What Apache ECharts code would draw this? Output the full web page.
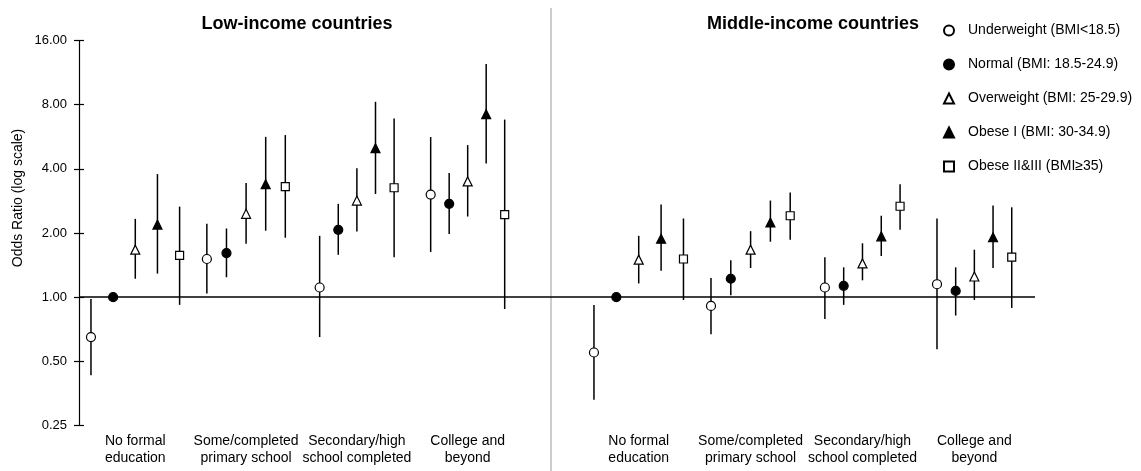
<!DOCTYPE html>
<html>
<head>
<meta charset="utf-8">
<script src="https://cdn.jsdelivr.net/npm/echarts@6/dist/echarts.min.js"></script>
<style>
  html, body { margin: 0; padding: 0; background: #fff; }
  #chart { width: 1141px; height: 471px; }
</style>
</head>
<body>
<div id="chart"></div>
<script>
// categories
const educationLevels = ['No formal\neducation', 'Some/completed\nprimary school', 'Secondary/high\nschool completed', 'College and\nbeyond'];
const bmiGroups = ['Underweight (BMI<18.5)', 'Normal (BMI: 18.5-24.9)', 'Overweight (BMI: 25-29.9)', 'Obese I (BMI: 30-34.9)', 'Obese II&III (BMI\u226535)'];
const yTicks = [0.25, 0.5, 1, 2, 4, 8, 16];

// odds ratio [OR, lower CI, upper CI] per education level - low-income countries
const lowUnderweight = [[0.65, 0.43, 0.98], [1.51, 1.04, 2.21], [1.11, 0.65, 1.94], [3.03, 1.63, 5.64]];
const lowNormal      = [[1.00, null, null], [1.61, 1.24, 2.10], [2.07, 1.58, 2.74], [2.74, 1.98, 3.82]];
const lowOverweight  = [[1.67, 1.22, 2.33], [2.46, 1.78, 3.43], [2.84, 2.03, 4.02], [3.49, 2.39, 5.17]];
const lowObese1      = [[2.19, 1.29, 3.78], [3.39, 2.05, 5.65], [5.00, 3.05, 8.25], [7.22, 4.24, 12.4]];
const lowObese23     = [[1.57, 0.92, 2.66], [3.30, 1.90, 5.76], [3.26, 1.54, 6.89], [2.44, 0.88, 6.81]];

// middle-income countries
const midUnderweight = [[0.55, 0.33, 0.92], [0.91, 0.67, 1.23], [1.11, 0.79, 1.54], [1.15, 0.57, 2.34]];
const midNormal      = [[1.00, null, null], [1.22, 1.02, 1.49], [1.13, 0.92, 1.38], [1.07, 0.82, 1.38]];
const midOverweight  = [[1.50, 1.16, 1.94], [1.67, 1.37, 2.04], [1.44, 1.20, 1.79], [1.25, 0.97, 1.67]];
const midObese1      = [[1.88, 1.33, 2.72], [2.24, 1.82, 2.84], [1.93, 1.56, 2.41], [1.91, 1.37, 2.69]];
const midObese23     = [[1.51, 0.97, 2.34], [2.41, 1.86, 3.10], [2.67, 2.07, 3.39], [1.54, 0.89, 2.64]];

const lowIncome = [lowUnderweight, lowNormal, lowOverweight, lowObese1, lowObese23];
const middleIncome = [midUnderweight, midNormal, midOverweight, midObese1, midObese23];

// marker look per BMI group
const markers = [
  { symbol: 'circle', size: 9, fill: '#fff' },
  { symbol: 'circle', size: 9, fill: '#000' },
  { symbol: 'triangle', size: 9, fill: '#fff' },
  { symbol: 'triangle', size: 9, fill: '#000' },
  { symbol: 'rect', size: 8, fill: '#fff' }
];
// spacing of the 5 markers inside each education group (axis units)
const slotWidth = [0.2, 0.177, 0.168, 0.167];

const FONT = 'Liberation Sans, Arial, sans-serif';

function xPos(g, k) {
  return g + (k - 2) * slotWidth[g];
}

function whiskers(params, api) {
  const lo = api.value(2);
  const hi = api.value(3);
  if (isNaN(lo) || isNaN(hi)) return;
  const p1 = api.coord([api.value(0), lo]);
  const p2 = api.coord([api.value(0), hi]);
  return {
    type: 'line',
    shape: { x1: p1[0], y1: p1[1], x2: p2[0], y2: p2[1] },
    style: { stroke: '#000', lineWidth: 1.5 }
  };
}

function panelSeries(panel, idx) {
  const out = [];
  const yIdx = idx === 0 ? 0 : 2;
  panel.forEach(function (rows, k) {
    const data = rows.map(function (r, g) { return [xPos(g, k), r[0], r[1], r[2]]; });
    out.push({
      name: 'ci' + idx + '-' + k,
      type: 'custom',
      xAxisIndex: idx,
      yAxisIndex: yIdx,
      renderItem: whiskers,
      encode: { x: 0, y: 1 },
      data: data,
      z: 2,
      silent: true
    });
    out.push({
      name: bmiGroups[k],
      type: 'scatter',
      xAxisIndex: idx,
      yAxisIndex: yIdx,
      symbol: markers[k].symbol,
      symbolSize: markers[k].size,
      itemStyle: { color: markers[k].fill, borderColor: '#000', borderWidth: 1.2, opacity: 1 },
      data: data.map(function (d) { return [d[0], d[1]]; }),
      z: 5
    });
  });
  // reference line at OR = 1
  out.push({
    type: 'line',
    xAxisIndex: idx,
    yAxisIndex: yIdx,
    data: [],
    markLine: {
      silent: true,
      symbol: 'none',
      label: { show: false },
      lineStyle: { color: '#000', width: 1.5, type: 'solid' },
      data: [{ yAxis: 1 }]
    }
  });
  return out;
}

function xAxisFor(idx, min, max) {
  return {
    type: 'value',
    gridIndex: idx,
    min: min,
    max: max,
    axisLine: { show: false },
    axisTick: { show: false },
    splitLine: { show: false },
    axisLabel: {
      customValues: [0, 1, 2, 3],
      formatter: function (v) { return educationLevels[Math.round(v)]; },
      fontFamily: FONT,
      fontSize: 14,
      lineHeight: 17,
      color: '#000',
      margin: 7
    }
  };
}

function logAxis(idx, extra) {
  return Object.assign({
    type: 'log',
    logBase: 2,
    gridIndex: idx,
    position: 'left',
    min: 0.25,
    max: 16,
    splitLine: { show: false }
  }, extra);
}

const chart = echarts.init(document.getElementById('chart'));

chart.setOption({
  backgroundColor: '#fff',
  animation: false,
  title: [
    { text: 'Low-income countries', left: 292, top: 10, textAlign: 'center',
      textStyle: { fontFamily: FONT, fontSize: 18, fontWeight: 'bold', color: '#000' } },
    { text: 'Middle-income countries', left: 808, top: 10, textAlign: 'center',
      textStyle: { fontFamily: FONT, fontSize: 18, fontWeight: 'bold', color: '#000' } }
  ],
  legend: {
    orient: 'vertical',
    left: 938,
    top: 18.5,
    itemWidth: 10,
    itemHeight: 10,
    itemGap: 20,
    data: bmiGroups,
    textStyle: { fontFamily: FONT, fontSize: 14, color: '#000', padding: [0, 0, 0, 9] }
  },
  grid: [
    { left: 79, top: 40.5, width: 472, height: 385 },
    { left: 551, top: 40.5, width: 484, height: 385 }
  ],
  xAxis: [
    xAxisFor(0, -0.508, 3.752),
    xAxisFor(1, -0.784, 3.542)
  ],
  yAxis: [
    logAxis(0, {
      name: 'Odds Ratio (log scale)',
      nameLocation: 'middle',
      nameGap: 54,
      nameTextStyle: { fontFamily: FONT, fontSize: 14, color: '#000', padding: [0, 0, 0, 70] },
      axisLine: { show: true, onZero: false, lineStyle: { color: '#000', width: 1.2 } },
      axisTick: { show: true, length: 5, lineStyle: { color: '#000', width: 1.2 } },
      axisLabel: {
        fontFamily: FONT, fontSize: 13, color: '#000', margin: 12,
        customValues: yTicks,
        formatter: function (v) { return v.toFixed(2); }
      }
    }),
    // second axis only for the inner half of the cross ticks
    logAxis(0, {
      axisLine: { show: false, onZero: false },
      axisTick: { show: true, inside: true, length: 5, lineStyle: { color: '#000', width: 1.2 } },
      axisLabel: { show: false }
    }),
    logAxis(1, {
      axisLine: { show: false, onZero: false },
      axisTick: { show: false },
      axisLabel: { show: false }
    })
  ],
  graphic: [
    {
      type: 'line',
      shape: { x1: 551, y1: 8, x2: 551, y2: 471 },
      style: { stroke: '#999', lineWidth: 1 },
      z: 0
    }
  ],
  series: panelSeries(lowIncome, 0).concat(panelSeries(middleIncome, 1))
});
</script>
</body>
</html>
